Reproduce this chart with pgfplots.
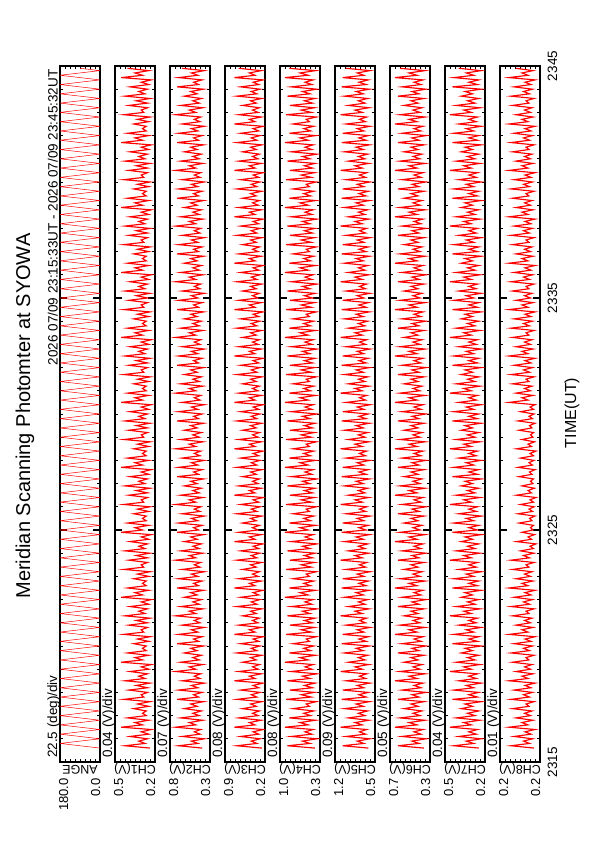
\documentclass[border=0pt]{standalone}
\usepackage{pgfplots}
\pgfplotsset{compat=1.18}
\usepackage{pgfplotstable}
\usepackage{fontspec}
\setmainfont{Liberation Sans}
\newcommand{\fs}[1]{\fontsize{#1}{#1}\selectfont}

\pgfplotstableread{
t ang c1 c4 c2 c5 c7 c3 c6 c8
0.6 0 0.24 0.42 0.41 0.62 0.25 0.30 0.36 0.172
0.7 90 0.44 0.86 0.74 1.08 0.45 0.70 0.62 0.218
0.8 180 0.28 0.50 0.47 0.70 0.29 0.38 0.41 0.181
0.9 90 0.33 0.62 0.56 0.82 0.35 0.47 0.48 0.193
1.0 0 0.26 0.39 0.38 0.59 0.23 0.33 0.34 0.175
1.1 90 0.40 0.80 0.69 1.02 0.41 0.64 0.58 0.212
1.2 180 0.25 0.47 0.44 0.67 0.27 0.35 0.39 0.178
1.3 90 0.31 0.58 0.52 0.78 0.33 0.44 0.46 0.190
1.4 0 0.23 0.45 0.43 0.65 0.26 0.28 0.37 0.170
1.5 90 0.47 0.90 0.78 1.12 0.48 0.74 0.65 0.222
1.6 180 0.30 0.53 0.50 0.73 0.31 0.41 0.43 0.184
1.7 90 0.36 0.66 0.59 0.86 0.37 0.50 0.51 0.196
1.8 0 0.25 0.41 0.40 0.61 0.24 0.31 0.35 0.174
1.9 90 0.42 0.83 0.71 0.98 0.43 0.67 0.60 0.208
2.0 180 0.27 0.49 0.45 0.68 0.28 0.36 0.40 0.179
2.1 90 0.30 0.60 0.54 0.80 0.34 0.45 0.47 0.191
2.2 0 0.27 0.44 0.42 0.63 0.25 0.34 0.38 0.176
2.3 90 0.37 0.77 0.66 1.05 0.39 0.61 0.56 0.215
2.4 180 0.25 0.51 0.48 0.71 0.30 0.39 0.42 0.182
2.5 90 0.34 0.56 0.57 0.84 0.36 0.48 0.49 0.188
2.6 0 0.24 0.40 0.39 0.60 0.23 0.30 0.36 0.172
2.7 90 0.45 0.88 0.76 1.10 0.46 0.70 0.62 0.218
2.8 180 0.29 0.48 0.46 0.66 0.26 0.38 0.41 0.181
2.9 90 0.31 0.64 0.53 0.79 0.33 0.47 0.48 0.193
3.0 0 0.26 0.43 0.41 0.62 0.25 0.33 0.34 0.175
3.1 90 0.41 0.82 0.74 1.08 0.45 0.64 0.58 0.212
3.2 180 0.26 0.46 0.47 0.70 0.29 0.35 0.39 0.178
3.3 90 0.35 0.59 0.56 0.82 0.35 0.44 0.46 0.190
3.4 0 0.24 0.42 0.38 0.59 0.23 0.28 0.37 0.170
3.5 90 0.44 0.86 0.69 1.02 0.41 0.74 0.65 0.222
3.6 180 0.28 0.50 0.44 0.67 0.27 0.41 0.43 0.184
3.7 90 0.33 0.62 0.52 0.78 0.33 0.50 0.51 0.196
3.8 0 0.26 0.39 0.43 0.65 0.26 0.31 0.35 0.174
3.9 90 0.40 0.80 0.78 1.12 0.48 0.67 0.60 0.208
4.0 180 0.25 0.47 0.50 0.73 0.31 0.36 0.40 0.179
4.1 90 0.31 0.58 0.59 0.86 0.37 0.45 0.47 0.191
4.2 0 0.23 0.45 0.40 0.61 0.24 0.34 0.38 0.176
4.3 90 0.47 0.90 0.71 0.98 0.43 0.61 0.56 0.215
4.4 180 0.30 0.53 0.45 0.68 0.28 0.39 0.42 0.182
4.5 90 0.36 0.66 0.54 0.80 0.34 0.48 0.49 0.188
4.6 0 0.25 0.41 0.42 0.63 0.25 0.30 0.36 0.172
4.7 90 0.42 0.83 0.66 1.05 0.39 0.70 0.62 0.218
4.8 180 0.27 0.49 0.48 0.71 0.30 0.38 0.41 0.181
4.9 90 0.30 0.60 0.57 0.84 0.36 0.47 0.48 0.193
5.0 0 0.27 0.44 0.39 0.60 0.23 0.33 0.34 0.175
5.1 90 0.37 0.77 0.76 1.10 0.46 0.64 0.58 0.212
5.2 180 0.25 0.51 0.46 0.66 0.26 0.35 0.39 0.178
5.3 90 0.34 0.56 0.53 0.79 0.33 0.44 0.46 0.190
5.4 0 0.24 0.40 0.41 0.62 0.25 0.28 0.37 0.170
5.5 90 0.45 0.88 0.74 1.08 0.45 0.74 0.65 0.222
5.6 180 0.29 0.48 0.47 0.70 0.29 0.41 0.43 0.184
5.7 90 0.31 0.64 0.56 0.82 0.35 0.50 0.51 0.196
5.8 0 0.26 0.43 0.38 0.59 0.23 0.31 0.35 0.174
5.9 90 0.41 0.82 0.69 1.02 0.41 0.67 0.60 0.208
6.0 180 0.26 0.46 0.44 0.67 0.27 0.36 0.40 0.179
6.1 90 0.35 0.59 0.52 0.78 0.33 0.45 0.47 0.191
6.2 0 0.24 0.42 0.43 0.65 0.26 0.34 0.38 0.176
6.3 90 0.44 0.86 0.78 1.12 0.48 0.61 0.56 0.215
6.4 180 0.28 0.50 0.50 0.73 0.31 0.39 0.42 0.182
6.5 90 0.33 0.62 0.59 0.86 0.37 0.48 0.49 0.188
6.6 0 0.26 0.39 0.40 0.61 0.24 0.30 0.36 0.172
6.7 90 0.40 0.80 0.71 0.98 0.43 0.70 0.62 0.218
6.8 180 0.25 0.47 0.45 0.68 0.28 0.38 0.41 0.181
6.9 90 0.31 0.58 0.54 0.80 0.34 0.47 0.48 0.193
7.0 0 0.23 0.45 0.42 0.63 0.25 0.33 0.34 0.175
7.1 90 0.47 0.90 0.66 1.05 0.39 0.64 0.58 0.212
7.2 180 0.30 0.53 0.48 0.71 0.30 0.35 0.39 0.178
7.3 90 0.36 0.66 0.57 0.84 0.36 0.44 0.46 0.190
7.4 0 0.25 0.41 0.39 0.60 0.23 0.28 0.37 0.170
7.5 90 0.42 0.83 0.76 1.10 0.46 0.74 0.65 0.222
7.6 180 0.27 0.49 0.46 0.66 0.26 0.41 0.43 0.184
7.7 90 0.30 0.60 0.53 0.79 0.33 0.50 0.51 0.196
7.8 0 0.27 0.44 0.41 0.62 0.25 0.31 0.35 0.174
7.9 90 0.37 0.77 0.74 1.08 0.45 0.67 0.60 0.208
8.0 180 0.25 0.51 0.47 0.70 0.29 0.36 0.40 0.179
8.1 90 0.34 0.56 0.56 0.82 0.35 0.45 0.47 0.191
8.2 0 0.24 0.40 0.38 0.59 0.23 0.34 0.38 0.176
8.3 90 0.45 0.88 0.69 1.02 0.41 0.61 0.56 0.215
8.4 180 0.29 0.48 0.44 0.67 0.27 0.39 0.42 0.182
8.5 90 0.31 0.64 0.52 0.78 0.33 0.48 0.49 0.188
8.6 0 0.26 0.43 0.43 0.65 0.26 0.30 0.36 0.172
8.7 90 0.41 0.82 0.78 1.12 0.48 0.70 0.62 0.218
8.8 180 0.26 0.46 0.50 0.73 0.31 0.38 0.41 0.181
8.9 90 0.35 0.59 0.59 0.86 0.37 0.47 0.48 0.193
9.0 0 0.24 0.42 0.40 0.61 0.24 0.33 0.34 0.172
9.1 90 0.44 0.86 0.71 0.98 0.43 0.64 0.58 0.199
9.2 180 0.28 0.50 0.45 0.68 0.28 0.35 0.39 0.173
9.3 90 0.33 0.62 0.54 0.80 0.34 0.44 0.46 0.180
9.4 0 0.26 0.39 0.42 0.63 0.25 0.28 0.37 0.168
9.5 90 0.40 0.80 0.66 1.05 0.39 0.74 0.65 0.207
9.6 180 0.25 0.47 0.48 0.71 0.30 0.41 0.43 0.177
9.7 90 0.31 0.58 0.57 0.84 0.36 0.50 0.51 0.184
9.8 0 0.23 0.45 0.39 0.60 0.23 0.31 0.35 0.171
9.9 90 0.47 0.90 0.76 1.10 0.46 0.67 0.60 0.196
10.0 180 0.30 0.53 0.46 0.66 0.26 0.36 0.40 0.174
10.1 90 0.36 0.66 0.53 0.79 0.33 0.45 0.47 0.179
10.2 0 0.25 0.41 0.41 0.62 0.25 0.34 0.38 0.173
10.3 90 0.42 0.83 0.74 1.08 0.45 0.61 0.56 0.202
10.4 180 0.27 0.49 0.47 0.70 0.29 0.39 0.42 0.176
10.5 90 0.30 0.60 0.56 0.82 0.35 0.48 0.49 0.181
10.6 0 0.27 0.44 0.38 0.59 0.23 0.30 0.36 0.170
10.7 90 0.37 0.77 0.69 1.02 0.41 0.70 0.62 0.204
10.8 180 0.25 0.51 0.44 0.67 0.27 0.38 0.41 0.175
10.9 90 0.34 0.56 0.52 0.78 0.33 0.47 0.48 0.182
11.0 0 0.24 0.40 0.43 0.65 0.26 0.33 0.34 0.172
11.1 90 0.45 0.88 0.78 1.12 0.48 0.64 0.58 0.199
11.2 180 0.29 0.48 0.50 0.73 0.31 0.35 0.39 0.173
11.3 90 0.31 0.64 0.59 0.86 0.37 0.44 0.46 0.180
11.4 0 0.26 0.43 0.40 0.61 0.24 0.28 0.37 0.168
11.5 90 0.41 0.82 0.71 0.98 0.43 0.74 0.65 0.207
11.6 180 0.26 0.46 0.45 0.68 0.28 0.41 0.43 0.177
11.7 90 0.35 0.59 0.54 0.80 0.34 0.50 0.51 0.184
11.8 0 0.24 0.42 0.42 0.63 0.25 0.31 0.35 0.171
11.9 90 0.44 0.86 0.66 1.05 0.39 0.67 0.60 0.196
12.0 180 0.28 0.50 0.48 0.71 0.30 0.36 0.40 0.174
12.1 90 0.33 0.62 0.57 0.84 0.36 0.45 0.47 0.179
12.2 0 0.26 0.39 0.39 0.60 0.23 0.34 0.38 0.173
12.3 90 0.40 0.80 0.76 1.10 0.46 0.61 0.56 0.202
12.4 180 0.25 0.47 0.46 0.66 0.26 0.39 0.42 0.176
12.5 90 0.31 0.58 0.53 0.79 0.33 0.48 0.49 0.181
12.6 0 0.23 0.45 0.41 0.62 0.25 0.30 0.36 0.170
12.7 90 0.47 0.90 0.74 1.08 0.45 0.70 0.62 0.204
12.8 180 0.30 0.53 0.47 0.70 0.29 0.38 0.41 0.175
12.9 90 0.36 0.66 0.56 0.82 0.35 0.47 0.48 0.182
13.0 0 0.25 0.41 0.38 0.59 0.23 0.33 0.34 0.172
13.1 90 0.42 0.83 0.69 1.02 0.41 0.64 0.58 0.199
13.2 180 0.27 0.49 0.44 0.67 0.27 0.35 0.39 0.173
13.3 90 0.30 0.60 0.52 0.78 0.33 0.44 0.46 0.180
13.4 0 0.27 0.44 0.43 0.65 0.26 0.28 0.37 0.168
13.5 90 0.37 0.77 0.78 1.12 0.48 0.74 0.65 0.207
13.6 180 0.25 0.51 0.50 0.73 0.31 0.41 0.43 0.177
13.7 90 0.34 0.56 0.59 0.86 0.37 0.50 0.51 0.184
13.8 0 0.24 0.40 0.40 0.61 0.24 0.31 0.35 0.171
13.9 90 0.45 0.88 0.71 0.98 0.43 0.67 0.60 0.196
14.0 180 0.29 0.48 0.45 0.68 0.28 0.36 0.40 0.174
14.1 90 0.31 0.64 0.54 0.80 0.34 0.45 0.47 0.179
14.2 0 0.26 0.43 0.42 0.63 0.25 0.34 0.38 0.173
14.3 90 0.41 0.82 0.66 1.05 0.39 0.61 0.56 0.202
14.4 180 0.26 0.46 0.48 0.71 0.30 0.39 0.42 0.176
14.5 90 0.35 0.59 0.57 0.84 0.36 0.48 0.49 0.181
14.6 0 0.24 0.42 0.39 0.60 0.23 0.30 0.36 0.170
14.7 90 0.44 0.86 0.76 1.10 0.46 0.70 0.62 0.204
14.8 180 0.28 0.50 0.46 0.66 0.26 0.38 0.41 0.175
14.9 90 0.33 0.62 0.53 0.79 0.33 0.47 0.48 0.182
15.0 0 0.26 0.39 0.41 0.62 0.25 0.33 0.34 0.172
15.1 90 0.40 0.80 0.74 1.08 0.45 0.64 0.58 0.199
15.2 180 0.25 0.47 0.47 0.70 0.29 0.35 0.39 0.173
15.3 90 0.31 0.58 0.56 0.82 0.35 0.44 0.46 0.180
15.4 0 0.23 0.45 0.38 0.59 0.23 0.28 0.37 0.170
15.5 90 0.47 0.90 0.69 1.02 0.41 0.74 0.65 0.222
15.6 180 0.30 0.53 0.44 0.67 0.27 0.41 0.43 0.184
15.7 90 0.36 0.66 0.52 0.78 0.33 0.50 0.51 0.196
15.8 0 0.25 0.41 0.43 0.65 0.26 0.31 0.35 0.174
15.9 90 0.42 0.83 0.78 1.12 0.48 0.67 0.60 0.208
16.0 180 0.27 0.49 0.50 0.73 0.31 0.36 0.40 0.179
16.1 90 0.30 0.60 0.59 0.86 0.37 0.45 0.47 0.191
16.2 0 0.27 0.44 0.40 0.61 0.24 0.34 0.38 0.176
16.3 90 0.37 0.77 0.71 0.98 0.43 0.61 0.56 0.215
16.4 180 0.25 0.51 0.45 0.68 0.28 0.39 0.42 0.182
16.5 90 0.34 0.56 0.54 0.80 0.34 0.48 0.49 0.188
16.6 0 0.24 0.40 0.42 0.63 0.25 0.30 0.36 0.172
16.7 90 0.45 0.88 0.66 1.05 0.39 0.70 0.62 0.218
16.8 180 0.29 0.48 0.48 0.71 0.30 0.38 0.41 0.181
16.9 90 0.31 0.64 0.57 0.84 0.36 0.47 0.48 0.193
17.0 0 0.26 0.43 0.39 0.60 0.23 0.33 0.34 0.175
17.1 90 0.41 0.82 0.76 1.10 0.46 0.64 0.58 0.212
17.2 180 0.26 0.46 0.46 0.66 0.26 0.35 0.39 0.178
17.3 90 0.35 0.59 0.53 0.79 0.33 0.44 0.46 0.190
17.4 0 0.24 0.42 0.41 0.62 0.25 0.28 0.37 0.170
17.5 90 0.44 0.86 0.74 1.08 0.45 0.74 0.65 0.222
17.6 180 0.28 0.50 0.47 0.70 0.29 0.41 0.43 0.184
17.7 90 0.33 0.62 0.56 0.82 0.35 0.50 0.51 0.196
17.8 0 0.26 0.39 0.38 0.59 0.23 0.31 0.35 0.174
17.9 90 0.40 0.80 0.69 1.02 0.41 0.67 0.60 0.208
18.0 180 0.25 0.47 0.44 0.67 0.27 0.36 0.40 0.179
18.1 90 0.31 0.58 0.52 0.78 0.33 0.45 0.47 0.191
18.2 0 0.23 0.45 0.43 0.65 0.26 0.34 0.38 0.176
18.3 90 0.47 0.90 0.78 1.12 0.48 0.61 0.56 0.215
18.4 180 0.30 0.53 0.50 0.73 0.31 0.39 0.42 0.182
18.5 90 0.36 0.66 0.59 0.86 0.37 0.48 0.49 0.188
18.6 0 0.25 0.41 0.40 0.61 0.24 0.30 0.36 0.172
18.7 90 0.42 0.83 0.71 0.98 0.43 0.70 0.62 0.218
18.8 180 0.27 0.49 0.45 0.68 0.28 0.38 0.41 0.181
18.9 90 0.30 0.60 0.54 0.80 0.34 0.47 0.48 0.193
19.0 0 0.27 0.44 0.42 0.63 0.25 0.33 0.34 0.175
19.1 90 0.37 0.77 0.66 1.05 0.39 0.64 0.58 0.212
19.2 180 0.25 0.51 0.48 0.71 0.30 0.35 0.39 0.178
19.3 90 0.34 0.56 0.57 0.84 0.36 0.44 0.46 0.190
19.4 0 0.24 0.40 0.39 0.60 0.23 0.28 0.37 0.170
19.5 90 0.45 0.88 0.76 1.10 0.46 0.74 0.65 0.222
19.6 180 0.29 0.48 0.46 0.66 0.26 0.41 0.43 0.184
19.7 90 0.31 0.64 0.53 0.79 0.33 0.50 0.51 0.196
19.8 0 0.26 0.43 0.41 0.62 0.25 0.31 0.35 0.174
19.9 90 0.41 0.82 0.74 1.08 0.45 0.67 0.60 0.208
20.0 180 0.26 0.46 0.47 0.70 0.29 0.36 0.40 0.179
20.1 90 0.35 0.59 0.56 0.82 0.35 0.45 0.47 0.191
20.2 0 0.24 0.42 0.38 0.59 0.23 0.34 0.38 0.176
20.3 90 0.44 0.86 0.69 1.02 0.41 0.61 0.56 0.215
20.4 180 0.28 0.50 0.44 0.67 0.27 0.39 0.42 0.182
20.5 90 0.33 0.62 0.52 0.78 0.33 0.48 0.49 0.188
20.6 0 0.26 0.39 0.43 0.65 0.26 0.30 0.36 0.172
20.7 90 0.40 0.80 0.78 1.12 0.48 0.70 0.62 0.218
20.8 180 0.25 0.47 0.50 0.73 0.31 0.38 0.41 0.181
20.9 90 0.31 0.58 0.59 0.86 0.37 0.47 0.48 0.193
21.0 0 0.23 0.45 0.40 0.61 0.24 0.33 0.34 0.175
21.1 90 0.47 0.90 0.71 0.98 0.43 0.64 0.58 0.212
21.2 180 0.30 0.53 0.45 0.68 0.28 0.35 0.39 0.178
21.3 90 0.36 0.66 0.54 0.80 0.34 0.44 0.46 0.190
21.4 0 0.25 0.41 0.42 0.63 0.25 0.28 0.37 0.170
21.5 90 0.42 0.83 0.66 1.05 0.39 0.74 0.65 0.222
21.6 180 0.27 0.49 0.48 0.71 0.30 0.41 0.43 0.184
21.7 90 0.30 0.60 0.57 0.84 0.36 0.50 0.51 0.196
21.8 0 0.27 0.44 0.39 0.60 0.23 0.31 0.35 0.174
21.9 90 0.37 0.77 0.76 1.10 0.46 0.67 0.60 0.208
22.0 180 0.25 0.51 0.46 0.66 0.26 0.36 0.40 0.179
22.1 90 0.34 0.56 0.53 0.79 0.33 0.45 0.47 0.191
22.2 0 0.24 0.40 0.41 0.62 0.25 0.34 0.38 0.176
22.3 90 0.45 0.88 0.74 1.08 0.45 0.61 0.56 0.215
22.4 180 0.29 0.48 0.47 0.70 0.29 0.39 0.42 0.182
22.5 90 0.31 0.64 0.56 0.82 0.35 0.48 0.49 0.188
22.6 0 0.26 0.43 0.38 0.59 0.23 0.30 0.36 0.172
22.7 90 0.41 0.82 0.69 1.02 0.41 0.70 0.62 0.218
22.8 180 0.26 0.46 0.44 0.67 0.27 0.38 0.41 0.181
22.9 90 0.35 0.59 0.52 0.78 0.33 0.47 0.48 0.193
23.0 0 0.24 0.42 0.43 0.65 0.26 0.33 0.34 0.175
23.1 90 0.44 0.86 0.78 1.12 0.48 0.64 0.58 0.212
23.2 180 0.28 0.50 0.50 0.73 0.31 0.35 0.39 0.178
23.3 90 0.33 0.62 0.59 0.86 0.37 0.44 0.46 0.190
23.4 0 0.26 0.39 0.40 0.61 0.24 0.28 0.37 0.170
23.5 90 0.40 0.80 0.71 0.98 0.43 0.74 0.65 0.222
23.6 180 0.25 0.47 0.45 0.68 0.28 0.41 0.43 0.184
23.7 90 0.31 0.58 0.54 0.80 0.34 0.50 0.51 0.196
23.8 0 0.23 0.45 0.42 0.63 0.25 0.31 0.35 0.174
23.9 90 0.47 0.90 0.66 1.05 0.39 0.67 0.60 0.208
24.0 180 0.30 0.53 0.48 0.71 0.30 0.36 0.40 0.179
24.1 90 0.36 0.66 0.57 0.84 0.36 0.45 0.47 0.191
24.2 0 0.25 0.41 0.39 0.60 0.23 0.34 0.38 0.176
24.3 90 0.42 0.83 0.76 1.10 0.46 0.61 0.56 0.215
24.4 180 0.27 0.49 0.46 0.66 0.26 0.39 0.42 0.182
24.5 90 0.30 0.60 0.53 0.79 0.33 0.48 0.49 0.188
24.6 0 0.27 0.44 0.41 0.62 0.25 0.30 0.36 0.172
24.7 90 0.37 0.77 0.74 1.08 0.45 0.70 0.62 0.218
24.8 180 0.25 0.51 0.47 0.70 0.29 0.38 0.41 0.181
24.9 90 0.34 0.56 0.56 0.82 0.35 0.47 0.48 0.193
25.0 0 0.24 0.40 0.38 0.59 0.23 0.33 0.34 0.175
25.1 90 0.45 0.88 0.69 1.02 0.41 0.64 0.58 0.212
25.2 180 0.29 0.48 0.44 0.67 0.27 0.35 0.39 0.178
25.3 90 0.31 0.64 0.52 0.78 0.33 0.44 0.46 0.190
25.4 0 0.26 0.43 0.43 0.65 0.26 0.28 0.37 0.170
25.5 90 0.41 0.82 0.78 1.12 0.48 0.74 0.65 0.222
25.6 180 0.26 0.46 0.50 0.73 0.31 0.41 0.43 0.184
25.7 90 0.35 0.59 0.59 0.86 0.37 0.50 0.51 0.196
25.8 0 0.24 0.42 0.40 0.61 0.24 0.31 0.35 0.174
25.9 90 0.44 0.86 0.71 0.98 0.43 0.67 0.60 0.208
26.0 180 0.28 0.50 0.45 0.68 0.28 0.36 0.40 0.179
26.1 90 0.33 0.62 0.54 0.80 0.34 0.45 0.47 0.191
26.2 0 0.26 0.39 0.42 0.63 0.25 0.34 0.38 0.176
26.3 90 0.40 0.80 0.66 1.05 0.39 0.61 0.56 0.215
26.4 180 0.25 0.47 0.48 0.71 0.30 0.39 0.42 0.182
26.5 90 0.31 0.58 0.57 0.84 0.36 0.48 0.49 0.188
26.6 0 0.23 0.45 0.39 0.60 0.23 0.30 0.36 0.172
26.7 90 0.47 0.90 0.76 1.10 0.46 0.70 0.62 0.218
26.8 180 0.30 0.53 0.46 0.66 0.26 0.38 0.41 0.181
26.9 90 0.36 0.66 0.53 0.79 0.33 0.47 0.48 0.193
27.0 0 0.25 0.41 0.41 0.62 0.25 0.33 0.34 0.175
27.1 90 0.42 0.83 0.74 1.08 0.45 0.64 0.58 0.212
27.2 180 0.27 0.49 0.47 0.70 0.29 0.35 0.39 0.178
27.3 90 0.30 0.60 0.56 0.82 0.35 0.44 0.46 0.190
27.4 0 0.27 0.44 0.38 0.59 0.23 0.28 0.37 0.170
27.5 90 0.37 0.77 0.69 1.02 0.41 0.74 0.65 0.222
27.6 180 0.25 0.51 0.44 0.67 0.27 0.41 0.43 0.184
27.7 90 0.34 0.56 0.52 0.78 0.33 0.50 0.51 0.196
27.8 0 0.24 0.40 0.43 0.65 0.26 0.31 0.35 0.174
27.9 90 0.45 0.88 0.78 1.12 0.48 0.67 0.60 0.208
28.0 180 0.29 0.48 0.50 0.73 0.31 0.36 0.40 0.179
28.1 90 0.31 0.64 0.59 0.86 0.37 0.45 0.47 0.191
28.2 0 0.26 0.43 0.40 0.61 0.24 0.34 0.38 0.176
28.3 90 0.41 0.82 0.71 0.98 0.43 0.61 0.56 0.215
28.4 180 0.26 0.46 0.45 0.68 0.28 0.39 0.42 0.182
28.5 90 0.35 0.59 0.54 0.80 0.34 0.48 0.49 0.188
28.6 0 0.24 0.42 0.42 0.63 0.25 0.30 0.36 0.172
28.7 90 0.44 0.86 0.66 1.05 0.39 0.70 0.62 0.218
28.8 180 0.28 0.50 0.48 0.71 0.30 0.38 0.41 0.181
28.9 90 0.33 0.62 0.57 0.84 0.36 0.47 0.48 0.193
29.0 0 0.26 0.39 0.39 0.60 0.23 0.33 0.34 0.175
29.1 90 0.40 0.80 0.76 1.10 0.46 0.64 0.58 0.212
29.2 180 0.25 0.47 0.46 0.66 0.26 0.35 0.39 0.178
29.3 90 0.31 0.58 0.53 0.79 0.33 0.44 0.46 0.190
29.4 0 0.23 0.45 0.41 0.62 0.25 0.28 0.37 0.170
29.5 90 0.47 0.90 0.74 1.08 0.45 0.74 0.65 0.222
29.6 180 0.30 0.53 0.47 0.70 0.29 0.41 0.43 0.184
29.7 90 0.36 0.66 0.56 0.82 0.35 0.50 0.51 0.196
29.8 0 0.25 0.41 0.38 0.59 0.23 0.31 0.35 0.174
29.9 90 0.42 0.83 0.69 1.02 0.41 0.67 0.60 0.208
}\msp

\pgfplotsset{
  panel/.style={
    scale only axis, width=40pt, height=696pt, anchor=south west,
    x dir=reverse, ymin=0, ymax=30,
    ytick={0,10,20,30}, minor y tick num=9,
    minor x tick num=7,
    xticklabels={}, yticklabels={},
    tick align=inside,
    major tick length=7pt, minor tick length=3pt,
    tick style={black, line width=0.8pt},
    major tick style={black, line width=1.5pt},
    axis line style={line width=1.8pt},
  },
  sig/.style={red, line width=1.15pt, line join=miter},
}

\begin{document}
\begin{tikzpicture}[x=1pt,y=1pt]
\useasboundingbox (0,0) rectangle (595,842);

\begin{axis}[panel, at={(60pt,80pt)}, xmin=0, xmax=180, xtick={0,180}]
\addplot[red, line width=0.5pt] table[x=ang,y=t]{\msp};
\end{axis}
\begin{axis}[panel, at={(115pt,80pt)}, xmin=0.2, xmax=0.52, xtick={0.2,0.52}]
\addplot[sig] table[x=c1,y=t]{\msp};
\end{axis}
\begin{axis}[panel, at={(170pt,80pt)}, xmin=0.3, xmax=0.86, xtick={0.3,0.86}]
\addplot[sig] table[x=c2,y=t]{\msp};
\end{axis}
\begin{axis}[panel, at={(225pt,80pt)}, xmin=0.25, xmax=0.89, xtick={0.25,0.89}]
\addplot[sig] table[x=c3,y=t]{\msp};
\end{axis}
\begin{axis}[panel, at={(280pt,80pt)}, xmin=0.34, xmax=0.98, xtick={0.34,0.98}]
\addplot[sig] table[x=c4,y=t]{\msp};
\end{axis}
\begin{axis}[panel, at={(335pt,80pt)}, xmin=0.5, xmax=1.22, xtick={0.5,1.22}]
\addplot[sig] table[x=c5,y=t]{\msp};
\end{axis}
\begin{axis}[panel, at={(390pt,80pt)}, xmin=0.3, xmax=0.7, xtick={0.3,0.7}]
\addplot[sig] table[x=c6,y=t]{\msp};
\end{axis}
\begin{axis}[panel, at={(445pt,80pt)}, xmin=0.2, xmax=0.52, xtick={0.2,0.52}]
\addplot[sig] table[x=c7,y=t]{\msp};
\end{axis}
\begin{axis}[panel, at={(500pt,80pt)}, xmin=0.16, xmax=0.24, xtick={0.16,0.24}]
\addplot[sig] table[x=c8,y=t]{\msp};
\end{axis}

% title and subtitle
\node[rotate=90, anchor=base, font=\fs{20}] at (30,426) {Meridian Scanning Photomter at SYOWA};
\node[rotate=90, anchor=base east, font=\fs{13.5}] at (57.5,776) {2026 07/09 23:15:33UT - 2026 07/09 23:45:32UT};

% per-panel labels
\foreach \L/\dv/\hi/\lo/\nm in {
  60/22.5 (deg)/180.0/0.0/ANGE,
  115/0.04 (V)/0.5/0.2/CH1(V),
  170/0.07 (V)/0.8/0.3/CH2(V),
  225/0.08 (V)/0.9/0.2/CH3(V),
  280/0.08 (V)/1.0/0.3/CH4(V),
  335/0.09 (V)/1.2/0.5/CH5(V),
  390/0.05 (V)/0.7/0.3/CH6(V),
  445/0.04 (V)/0.5/0.2/CH7(V),
  500/0.01 (V)/0.2/0.2/CH8(V)}{
  \node[rotate=90, anchor=base west, font=\fs{13.5}, inner sep=0pt] at (\L-3,84) {\dv/div};
  \node[rotate=90, anchor=base east, font=\fs{13}, inner sep=0pt] at (\L+8,64) {\hi};
  \node[rotate=90, anchor=base east, font=\fs{13}, inner sep=0pt] at (\L+40,64) {\lo};
  \node[rotate=180, anchor=base, font=\fs{12.5}, inner sep=0pt] at (\L+20,76) {\nm};
}

% time labels
\foreach \yy/\tl in {80/2315, 312/2325, 544/2335, 776/2345}{
  \node[rotate=90, anchor=base, font=\fs{13.5}, inner sep=0pt] at (557,\yy) {\tl};
}
\node[rotate=90, anchor=base, font=\fs{16}, inner sep=0pt] at (576,429) {TIME(UT)};
\end{tikzpicture}
\end{document}
